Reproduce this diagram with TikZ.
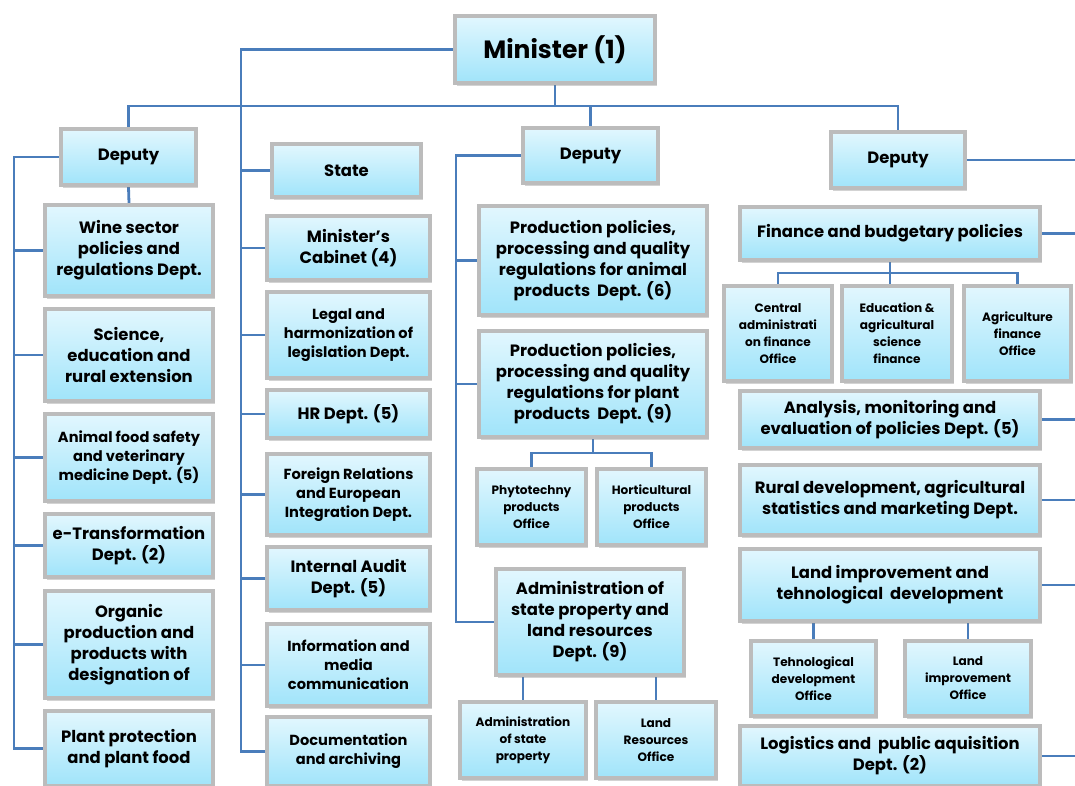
\documentclass[tikz,border=0pt]{standalone}
\usepackage{fontspec}
\setmainfont{Poppins}
\usetikzlibrary{shadows,backgrounds}

\definecolor{linkblue}{RGB}{74,125,187}
\definecolor{boxtop}{RGB}{226,247,254}
\definecolor{boxbot}{RGB}{160,228,250}
\definecolor{boxrim}{RGB}{188,188,188}

\tikzset{
  ob/.style={draw=boxrim, line width=4pt, top color=boxtop, bottom color=boxbot,
    inner sep=0pt, align=center,
    drop shadow={shadow xshift=1.5pt, shadow yshift=-2.5pt, opacity=0.35}},
  link/.style={draw=linkblue, line width=2.8pt},
  fbig/.style={font=\bfseries\fontsize{25}{30}\selectfont},
  fstd/.style={font=\bfseries\fontsize{16.4}{21}\selectfont},
  fmid/.style={font=\bfseries\fontsize{14.6}{19}\selectfont},
  fsml/.style={font=\bfseries\fontsize{12.1}{17}\selectfont},
}

% \orgbox{name}{x1}{y1}{x2}{y2}{font style}{text}: box by its outer corners
\newcommand\orgbox[7]{%
  \node[ob,#6,minimum width={(#4)-(#2)-4},minimum height={(#5)-(#3)-4}]
    (#1) at ({((#2)+(#4))/2},{((#3)+(#5))/2}) {#7};}

\begin{document}
\begin{tikzpicture}[x=1pt,y=-1pt]
\useasboundingbox (0,0) rectangle (1075,785);
\clip (0,0) rectangle (1075,785);

% top level
\orgbox{min}{453}{14}{657}{85}{fbig}{Minister (1)}
\orgbox{dA}{59}{127}{198}{187}{fstd}{Deputy}
\orgbox{st}{270}{142}{423}{199}{fstd}{State}
\orgbox{dB}{521}{126}{660}{185}{fstd}{Deputy}
\orgbox{dC}{829}{130}{967}{190}{fstd}{Deputy}

% first deputy
\orgbox{wine}{43}{203}{215}{298}{fstd}{Wine sector\\policies and\\regulations Dept.}
\orgbox{sci}{43}{307}{215}{403}{fstd}{Science,\\education and\\rural extension}
\orgbox{afs}{43}{412}{215}{503}{fmid}{Animal food safety\\and veterinary\\medicine Dept. (5)}
\orgbox{etr}{43}{512}{215}{579}{fstd}{e-Transformation\\Dept. (2)}
\orgbox{org}{43}{589}{215}{700}{fstd}{Organic\\production and\\products with\\designation of}
\orgbox{ppf}{43}{709}{215}{788}{fstd}{Plant protection\\and plant food}

% state secretary
\orgbox{cab}{265}{214}{432}{282}{fstd}{Minister's\\Cabinet (4)}
\orgbox{leg}{265}{290}{432}{380}{fmid}{Legal and\\harmonization of\\legislation Dept.}
\orgbox{hr}{265}{388}{432}{440}{fstd}{HR Dept. (5)}
\orgbox{frl}{265}{452}{432}{537}{fmid}{Foreign Relations\\and European\\Integration Dept.}
\orgbox{iau}{265}{545}{432}{612}{fstd}{Internal Audit\\Dept. (5)}
\orgbox{imc}{265}{622}{432}{708}{fmid}{Information and\\media\\communication}
\orgbox{doc}{265}{715}{432}{788}{fmid}{Documentation\\and archiving}

% second deputy
\orgbox{pan}{477}{204}{709}{317}{fstd}{Production policies,\\processing and quality\\regulations for animal\\products\ \ Dept. (6)}
\orgbox{ppl}{477}{329}{709}{439}{fstd}{Production policies,\\processing and quality\\regulations for plant\\products\ \ Dept. (9)}
\orgbox{phy}{475}{467}{588}{547}{fsml}{Phytotechny\\products\\Office}
\orgbox{hor}{595}{467}{708}{547}{fsml}{Horticultural\\products\\Office}
\orgbox{asl}{494}{567}{686}{677}{fstd}{Administration of\\state property and\\land resources\\Dept. (9)}
\orgbox{asp}{458}{700}{588}{780}{fsml}{Administration\\of state\\property}
\orgbox{lro}{594}{700}{718}{780}{fsml}{Land\\Resources\\Office}

% third deputy
\orgbox{fin}{738}{205}{1042}{262}{fstd}{Finance and budgetary policies}
\orgbox{cen}{722}{284}{834}{383}{fsml}{Central\\administrati\\on finance\\Office}
\orgbox{edu}{840}{284}{954}{383}{fsml}{Education \&\\agricultural\\science\\finance}
\orgbox{agr}{962}{284}{1073}{383}{fsml}{Agriculture\\finance\\Office}
\orgbox{ame}{738}{389}{1042}{450}{fstd}{Analysis, monitoring and\\evaluation of policies Dept. (5)}
\orgbox{rur}{738}{463}{1042}{537}{fstd}{Rural development, agricultural\\statistics and marketing Dept.}
\orgbox{lit}{738}{547}{1042}{623}{fstd}{Land improvement and\\tehnological\ \ development}
\orgbox{teh}{749}{639}{878}{718}{fsml}{Tehnological\\development\\Office}
\orgbox{lio}{903}{639}{1033}{718}{fsml}{Land\\improvement\\Office}
\orgbox{log}{738}{724}{1042}{788}{fstd}{Logistics and\ \ public aquisition\\Dept. (2)}

% trunk positions
\coordinate (xS) at (241,0);
\coordinate (xL) at (14,0);
\coordinate (xM) at (456,0);
\coordinate (xR) at (1075,0);
\coordinate (yBus) at (0,106);
\coordinate (yP) at (0,453);
\coordinate (yF) at (0,273);

\begin{scope}[on background layer]
  % minister to state secretary column
  \draw[link] (min.west) -| (doc.west -| xS) -- (doc.west);
  \foreach \n in {st,cab,leg,hr,frl,iau,imc}
    \draw[link] (\n.west -| xS) -- (\n.west);
  % minister to deputies
  \draw[link] (min.south) -- (min.south |- yBus);
  \draw[link] (dA.north) |- (dC.north |- yBus) -- (dC.north);
  \draw[link] (dB.north) -- (dB.north |- yBus);
  % first deputy
  \draw[link] (dA.west) -| (ppf.west -| xL) -- (ppf.west);
  \foreach \n in {wine,sci,afs,etr,org}
    \draw[link] (\n.west -| xL) -- (\n.west);
  \draw[link] (dA.south) -- (wine.north);
  % second deputy
  \draw[link] (dB.west) -| (asl.west -| xM) -- (asl.west);
  \foreach \n in {pan,ppl}
    \draw[link] (\n.west -| xM) -- (\n.west);
  \draw[link] (ppl.south) -- (ppl.south |- yP);
  \draw[link] (phy.north) |- (hor.north |- yP) -- (hor.north);
  \draw[link] (asp.north) -- (asp.north |- asl.south);
  \draw[link] (lro.north) -- (lro.north |- asl.south);
  % third deputy
  \draw[link] (dC.east) -- (dC.east -| xR);
  \foreach \n in {fin,ame,rur,lit,log}
    \draw[link] (\n.east) -- (\n.east -| xR);
  \draw[link] (fin.south) -- (fin.south |- edu.north);
  \draw[link] (cen.north) |- (agr.north |- yF) -- (agr.north);
  \draw[link] (teh.north) -- (teh.north |- lit.south);
  \draw[link] (lio.north) -- (lio.north |- lit.south);
\end{scope}
\end{tikzpicture}
\end{document}
